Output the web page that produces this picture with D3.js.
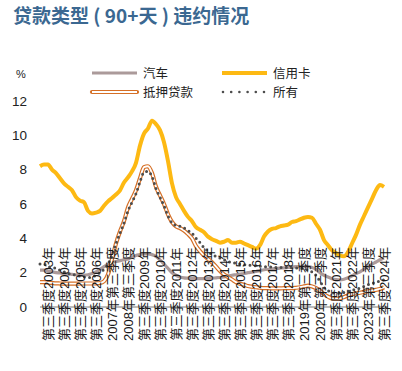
<!DOCTYPE html>
<html>
<head>
<meta charset="utf-8">
<script src="https://cdn.jsdelivr.net/npm/d3@7"></script>
<style>
  body { margin: 0; background: #fff; }
  svg text { font-family: "Liberation Sans", "Noto Sans CJK SC", sans-serif; }
</style>
</head>
<body>
<div id="chart"></div>
<script>
// quarterly, 2003 Q1 .. 2024 Q3
const autoLoans = [2.15,2.15,2.1,2.05,2.0,1.98,1.95,1.92,1.9,1.88,1.87,1.86,1.88,1.95,2.05,2.2,2.35,2.5,2.6,2.65,
  2.7,2.75,2.8,2.9,3.0,3.05,3.1,3.1,3.05,2.95,2.75,2.5,2.25,2.0,1.85,1.75,1.7,1.68,1.66,1.65,
  1.65,1.65,1.66,1.68,1.7,1.72,1.75,1.8,1.85,1.88,1.92,1.95,2.0,2.03,2.07,2.12,2.17,2.2,2.22,2.25,
  2.27,2.28,2.3,2.32,2.35,2.35,2.36,2.35,2.3,2.2,2.0,1.85,1.75,1.65,1.6,1.58,1.62,1.7,1.82,1.95,
  2.05,2.2,2.35,2.5,2.62,2.75,2.85];
const creditCard = [8.2,8.3,8.3,8.0,7.8,7.5,7.2,7.0,6.8,6.4,6.2,6.1,5.6,5.45,5.5,5.6,5.9,6.15,6.35,6.55,
  6.8,7.25,7.55,7.9,8.4,9.4,10.1,10.4,10.85,10.65,10.3,9.6,8.5,7.2,6.4,6.0,5.6,5.25,5.0,4.65,
  4.5,4.35,4.1,3.95,3.85,3.75,3.8,3.9,3.75,3.75,3.8,3.7,3.6,3.5,3.4,3.6,4.1,4.4,4.55,4.6,
  4.7,4.75,4.8,4.95,5.0,5.1,5.2,5.25,5.2,4.85,4.5,3.9,3.6,3.3,3.15,3.0,2.95,3.2,3.7,4.2,
  4.8,5.3,5.8,6.3,6.8,7.1,7.0];
const mortgage = [1.45,1.45,1.42,1.4,1.38,1.37,1.36,1.36,1.36,1.36,1.37,1.37,1.37,1.37,1.38,1.4,1.5,1.9,2.8,3.7,
  4.4,5.0,5.8,6.3,6.8,7.5,8.15,8.2,7.8,7.0,6.5,6.0,5.4,4.95,4.7,4.6,4.45,4.25,4.0,3.55,
  3.25,3.0,2.8,2.6,2.35,2.1,1.9,1.75,1.6,1.45,1.35,1.3,1.22,1.18,1.15,1.12,1.1,1.1,1.08,1.08,
  1.08,1.1,1.1,1.1,1.12,1.15,1.2,1.25,1.2,1.1,0.95,0.75,0.6,0.5,0.48,0.5,0.58,0.68,0.75,0.8,
  0.83,0.88,0.92,0.97,1.0,1.05,1.15];
const allLoans = [2.5,2.5,2.35,2.3,2.25,2.15,2.05,1.95,1.9,1.85,1.8,1.75,1.72,1.75,1.85,2.0,2.2,2.5,3.0,3.7,
  4.3,4.9,5.6,6.1,6.6,7.3,7.85,7.9,7.6,6.9,6.4,5.9,5.3,4.9,4.75,4.7,4.6,4.45,4.3,4.0,
  3.75,3.45,3.25,3.05,2.95,2.85,2.75,2.65,2.6,2.55,2.5,2.47,2.45,2.42,2.4,2.37,2.35,2.33,2.32,2.3,
  2.3,2.3,2.3,2.28,2.27,2.25,2.22,2.15,2.05,1.85,1.5,1.15,0.95,0.85,0.8,0.8,0.85,0.9,0.97,1.05,
  1.1,1.2,1.3,1.38,1.45,1.52,1.58];

const tickLabels = ["第三季度2003年","第三季度2004年","第三季度2005年","第三季度2006年","2007年第三季度",
  "2008年第三季度","第三季度2009年","第三季度2010年","第三季度2011年","第三季度2012年","第三季度2013年",
  "第三季度2014年","第三季度2015年","第三季度2016年","第三季度2017年","第三季度2018年","2019年第三季度",
  "2020年第三季度","第三季度2021年","第三季度2022年","2023年第三季度","第三季度2024年"];
const yTicks = [0, 2, 4, 6, 8, 10, 12];

const W = 402, H = 371;
const svg = d3.select("#chart").append("svg")
  .attr("width", W).attr("height", H);

const x = d3.scaleLinear().domain([0, creditCard.length - 1]).range([40, 384]);
const y = d3.scaleLinear().domain([0, 12]).range([307, 101]);

// title
svg.append("text")
  .attr("x", 13).attr("y", 23)
  .style("font-family", "'Noto Sans CJK SC', sans-serif")
  .style("font-size", "19px").style("font-weight", "bold")
  .attr("fill", "#3b6891")
  .text("贷款类型 ( 90+天 ) 违约情况");

svg.append("text")
  .attr("x", 21).attr("y", 78)
  .attr("text-anchor", "middle")
  .style("font-size", "11px").attr("fill", "#222")
  .text("%");

// y axis
const yAxis = svg.append("g")
  .attr("transform", "translate(27,0)")
  .call(d3.axisLeft(y).tickValues(yTicks).tickSize(0).tickPadding(0));
yAxis.select(".domain").remove();
yAxis.selectAll("text").style("font-size", "13.5px").attr("fill", "#222");

const line = data => d3.line()
  .x((d, i) => x(i))
  .y(d => y(d))
  .curve(d3.curveMonotoneX)(data);

svg.append("path").attr("d", line(autoLoans))
  .attr("fill", "none").attr("stroke", "#ab9a9a").attr("stroke-width", 3.2);
svg.append("path").attr("d", line(creditCard))
  .attr("fill", "none").attr("stroke", "#fdb913").attr("stroke-width", 4);
svg.append("path").attr("d", line(mortgage))
  .attr("fill", "none").attr("stroke", "#d56f26").attr("stroke-width", 4.2);
svg.append("path").attr("d", line(mortgage))
  .attr("fill", "none").attr("stroke", "#fff").attr("stroke-width", 1.8);
svg.append("path").attr("d", line(allLoans))
  .attr("fill", "none").attr("stroke", "#4d4d4d").attr("stroke-width", 3)
  .attr("stroke-linecap", "round").attr("stroke-dasharray", "0 5.2");

// x axis
const tickIdx = tickLabels.map((d, k) => 2 + 4 * k);
const xAxis = svg.append("g")
  .attr("transform", "translate(0,307)")
  .call(d3.axisBottom(x).tickValues(tickIdx).tickSize(0)
    .tickFormat((d, k) => tickLabels[k]));
xAxis.select(".domain").attr("stroke", "#a6a6a6").attr("stroke-width", 1.5)
  .attr("d", "M40,0H388");
xAxis.selectAll("text")
  .attr("transform", "rotate(-90)")
  .attr("x", 13).attr("y", 0).attr("dy", "0.35em")
  .style("text-anchor", "middle")
  .style("font-size", "13px").attr("fill", "#1a1a1a");

// legend
const legend = [
  { name: "汽车", col: 0, row: 0, type: "auto" },
  { name: "信用卡", col: 1, row: 0, type: "card" },
  { name: "抵押贷款", col: 0, row: 1, type: "mort" },
  { name: "所有", col: 1, row: 1, type: "all" }
];
legend.forEach(l => {
  const lx = l.col ? 222 : 92, ly = l.row ? 92 : 73;
  const g = svg.append("g");
  const seg = g.append("line").attr("x1", lx).attr("x2", lx + 45).attr("y1", ly).attr("y2", ly);
  if (l.type === "auto") seg.attr("stroke", "#ab9a9a").attr("stroke-width", 3.2);
  if (l.type === "card") seg.attr("stroke", "#fdb913").attr("stroke-width", 4);
  if (l.type === "mort") {
    seg.attr("stroke", "#d56f26").attr("stroke-width", 4.2).attr("stroke-linecap", "round");
    g.append("line").attr("x1", lx).attr("x2", lx + 45).attr("y1", ly).attr("y2", ly)
      .attr("stroke", "#fff").attr("stroke-width", 1.8);
  }
  if (l.type === "all") seg.attr("x1", lx + 1).attr("x2", lx + 42)
    .attr("stroke", "#4d4d4d").attr("stroke-width", 2.6)
    .attr("stroke-linecap", "round").attr("stroke-dasharray", "0 8.2");
  g.append("text").attr("x", lx + 51).attr("y", ly).attr("dy", "0.36em")
    .style("font-size", "12.5px").attr("fill", "#222").text(l.name);
});
</script>
</body>
</html>
